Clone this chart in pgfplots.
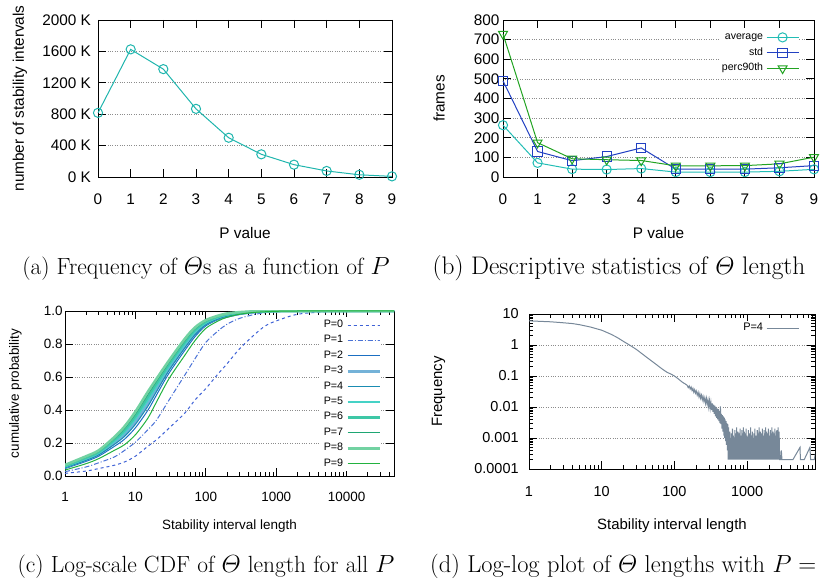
\documentclass[border=0pt]{standalone}
\usepackage{amsmath}
\usepackage{fontspec}
\newfontfamily\plotfont{Liberation Sans}
\usepackage{pgfplots}
\pgfplotsset{compat=1.18}
\definecolor{cA}{HTML}{1FB5AD}
\definecolor{cAvg}{HTML}{22BDB5}
\definecolor{cStd}{HTML}{2241C2}
\definecolor{cPerc}{HTML}{22A322}
\definecolor{cP0}{HTML}{3F62D6}
\definecolor{cP1}{HTML}{4A72D6}
\definecolor{cP2}{HTML}{1B6FC2}
\definecolor{cP3}{HTML}{74B2D8}
\definecolor{cP4}{HTML}{1A8CB2}
\definecolor{cP5}{HTML}{45D2C6}
\definecolor{cP6}{HTML}{3EC7A6}
\definecolor{cP7}{HTML}{1EA673}
\definecolor{cP8}{HTML}{72D2A2}
\definecolor{cP9}{HTML}{22B23F}
\definecolor{cD}{HTML}{778899}
\newcommand\fs[1]{\plotfont\fontsize{#1}{#1}\selectfont}
\pgfplotsset{
  base/.style={
    scale only axis,
    axis line style={black, line width=0.9bp},
    every tick/.style={black, line width=0.8bp},
    major tick length=8bp,
    minor tick length=4bp,
    tick align=inside,
    xtick pos=both, ytick pos=both,
    xticklabel pos=lower, yticklabel pos=left,
    ymajorgrids,
    grid style={dotted, black!45, line width=0.7bp},
    /pgf/number format/assume math mode=true,
    legend image code/.code={\draw[mark repeat=2,mark phase=2,##1] plot coordinates {(0bp,0bp) (16bp,0bp) (32bp,0bp)};},
    legend cell align=right,
    legend plot pos=right,
  },
}
\begin{document}
\begin{tikzpicture}
\useasboundingbox (0,0) rectangle (821bp,584bp);
% ---------------- (a)
\begin{axis}[base, at={(98bp,407bp)}, anchor=south west, width=294bp, height=157bp,
  xmin=0, xmax=9, ymin=0, ymax=2000, clip=false,
  xtick={0,...,9}, ytick={0,400,...,2000},
  yticklabels={0 K,400 K,800 K,1200 K,1600 K,2000 K},
  tick label style={font=\fs{15.4}},
  xticklabel style={anchor=base, yshift=-27.5bp},
  yticklabel style={xshift=-3.6bp},
  xlabel={P value}, ylabel={number of stability intervals},
  label style={font=\fs{15.4}},
  xlabel style={at={(axis description cs:0.5,-0.390)}, anchor=base},
  ylabel style={at={(axis description cs:-0.252,0.5)}, anchor=base}]
\addplot[cA, line width=1bp, mark=o, mark size=4.6bp] coordinates {
(0,817) (1,1626) (2,1374) (3,868) (4,500) (5,289) (6,157) (7,77) (8,28) (9,8)};
\end{axis}
% ---------------- (b)
\begin{axis}[base, at={(503bp,407bp)}, anchor=south west, width=311bp, height=157bp,
  xmin=0, xmax=9, ymin=0, ymax=800, clip=false,
  xtick={0,...,9}, ytick={0,100,...,800},
  tick label style={font=\fs{15.4}},
  xticklabel style={anchor=base, yshift=-27.5bp},
  xlabel={P value}, ylabel={frames},
  label style={font=\fs{15.4}},
  xlabel style={at={(axis description cs:0.5,-0.390)}, anchor=base},
  ylabel style={at={(axis description cs:-0.188,0.5)}, anchor=base},
  legend style={at={(axis description cs:0.9527,0.94)}, anchor=north east, draw=none, fill=white,
    font=\fs{10.6}, inner sep=0pt, row sep=0pt,
    nodes={inner xsep=3bp, inner ysep=0pt, text height=10bp, text depth=5.5bp}}]
\addplot[cAvg, line width=1bp, mark=o, mark size=4.6bp] coordinates {
(0,264) (1,72) (2,40) (3,38) (4,43) (5,25) (6,25) (7,25) (8,29) (9,39)};
\addlegendentry{average}
\addplot[cStd, line width=1bp, mark=square, mark size=4.6bp] coordinates {
(0,490) (1,130) (2,83) (3,104) (4,148) (5,40) (6,40) (7,40) (8,47) (9,58)};
\addlegendentry{std}
\addplot[cPerc, line width=1bp, mark=triangle, mark size=5.2bp, mark options={rotate=180}] coordinates {
(0,729) (1,175) (2,93) (3,88) (4,84) (5,57) (6,57) (7,58) (8,67) (9,101)};
\addlegendentry{perc90th}
\end{axis}
% ---------------- (c)
\begin{axis}[base, at={(65bp,108bp)}, anchor=south west, width=329bp, height=165bp,
  xmode=log, xmin=1, xmax=47000, ymin=0, ymax=1,
  xtick={1,10,100,1000,10000}, xticklabels={1,10,100,1000,10000},
  minor xtick={2,3,4,5,6,7,8,9,20,30,40,50,60,70,80,90,200,300,400,500,600,700,800,900,2000,3000,4000,5000,6000,7000,8000,9000,20000,30000,40000},
  ytick={0,0.2,0.4,0.6,0.8,1}, yticklabels={0.0,0.2,0.4,0.6,0.8,1.0},
  tick label style={font=\fs{13.5}},
  xticklabel style={anchor=base, yshift=-25.7bp},
  yticklabel style={xshift=1.2bp},
  xlabel={Stability interval length}, ylabel={cumulative probability},
  label style={font=\fs{13.5}},
  xlabel style={at={(axis description cs:0.5,-0.327)}, anchor=base},
  ylabel style={at={(axis description cs:-0.140,0.5)}, anchor=base},
  legend style={at={(axis description cs:0.9605,0.962)}, anchor=north east, draw=none, fill=white,
    font=\fs{10.8}, inner sep=0pt, row sep=0pt,
    nodes={inner xsep=3bp, inner ysep=0pt, text height=10bp, text depth=5.4bp}}]
\addplot[cP0, line width=1bp, dash pattern=on 3bp off 3bp, smooth] coordinates {
(1,0.016)(2,0.03)(3,0.045)(5,0.065)(7,0.085)(10,0.12)(15,0.18)(20,0.22)(30,0.29)(50,0.38)(70,0.46)(100,0.53)(150,0.62)(200,0.68)(300,0.77)(500,0.86)(700,0.91)(1000,0.94)(2000,0.98)(5000,0.995)(10000,1)(47000,1)};
\addlegendentry{P=0}
\addplot[cP1, line width=1bp, dash pattern=on 5bp off 2bp on 1bp off 2bp, smooth] coordinates {
(1,0.026)(2,0.055)(3,0.08)(5,0.115)(7,0.155)(10,0.205)(15,0.28)(20,0.34)(30,0.46)(50,0.61)(70,0.71)(100,0.81)(150,0.88)(200,0.92)(300,0.955)(500,0.98)(700,0.99)(1000,0.995)(2000,1)(47000,1)};
\addlegendentry{P=1}
\addplot[cP2, line width=1bp, smooth] coordinates {
(1,0.045)(2,0.089)(3,0.12)(5,0.179)(7,0.223)(10,0.292)(15,0.398)(20,0.492)(30,0.623)(50,0.76)(70,0.844)(100,0.91)(150,0.948)(200,0.962)(300,0.978)(500,0.99)(1000,0.997)(2000,1)(47000,1)};
\addlegendentry{P=2}
\addplot[cP3, line width=2.6bp, smooth] coordinates {
(1,0.053)(2,0.1)(3,0.133)(5,0.199)(7,0.25)(10,0.327)(15,0.438)(20,0.527)(30,0.65)(50,0.785)(70,0.864)(100,0.922)(150,0.956)(200,0.97)(300,0.984)(500,0.993)(1000,0.998)(2000,1)(47000,1)};
\addlegendentry{P=3}
\addplot[cP4, line width=1bp, smooth] coordinates {
(1,0.05)(2,0.095)(3,0.128)(5,0.191)(7,0.24)(10,0.313)(15,0.422)(20,0.513)(30,0.64)(50,0.775)(70,0.856)(100,0.917)(150,0.952)(200,0.968)(300,0.982)(500,0.992)(1000,0.998)(2000,1)(47000,1)};
\addlegendentry{P=4}
\addplot[cP5, line width=2.2bp, smooth] coordinates {
(1,0.058)(2,0.107)(3,0.14)(5,0.211)(7,0.267)(10,0.348)(15,0.462)(20,0.548)(30,0.667)(50,0.8)(70,0.876)(100,0.93)(150,0.962)(200,0.978)(300,0.989)(500,0.996)(1000,0.999)(2000,1)(47000,1)};
\addlegendentry{P=5}
\addplot[cP6, line width=2.2bp, smooth] coordinates {
(1,0.061)(2,0.111)(3,0.145)(5,0.219)(7,0.278)(10,0.362)(15,0.478)(20,0.562)(30,0.678)(50,0.81)(70,0.884)(100,0.935)(150,0.966)(200,0.98)(300,0.99)(500,0.997)(1000,1)(47000,1)};
\addlegendentry{P=6}
\addplot[cP7, line width=1bp, smooth] coordinates {
(1,0.064)(2,0.116)(3,0.15)(5,0.227)(7,0.289)(10,0.376)(15,0.494)(20,0.576)(30,0.689)(50,0.82)(70,0.892)(100,0.94)(150,0.969)(200,0.983)(300,0.992)(500,0.997)(1000,1)(47000,1)};
\addlegendentry{P=7}
\addplot[cP8, line width=2.6bp, smooth] coordinates {
(1,0.067)(2,0.12)(3,0.155)(5,0.235)(7,0.3)(10,0.39)(15,0.51)(20,0.59)(30,0.7)(50,0.83)(70,0.9)(100,0.945)(150,0.972)(200,0.985)(300,0.993)(500,0.998)(1000,1)(47000,1)};
\addlegendentry{P=8}
\addplot[cP9, line width=1bp, smooth] coordinates {
(1,0.036)(2,0.075)(3,0.105)(5,0.155)(7,0.19)(10,0.25)(15,0.35)(20,0.45)(30,0.59)(50,0.73)(70,0.82)(100,0.895)(150,0.94)(200,0.962)(300,0.98)(500,0.992)(1000,0.998)(2000,1)(47000,1)};
\addlegendentry{P=9}
\end{axis}
% ---------------- (d)
\begin{axis}[base, at={(529bp,115bp)}, anchor=south west, width=286bp, height=155bp,
  xmode=log, ymode=log, xmin=1, xmax=8600, ymin=0.0001, ymax=10,
  xtick={1,10,100,1000}, xticklabels={1,10,100,1000},
  minor xtick={2,3,4,5,6,7,8,9,20,30,40,50,60,70,80,90,200,300,400,500,600,700,800,900,2000,3000,4000,5000,6000,7000,8000},
  ytick={0.0001,0.001,0.01,0.1,1,10}, yticklabels={0.0001,0.001,0.01,0.1,1,10},
  minor ytick={0.0002,0.0003,0.0004,0.0005,0.0006,0.0007,0.0008,0.0009,0.002,0.003,0.004,0.005,0.006,0.007,0.008,0.009,0.02,0.03,0.04,0.05,0.06,0.07,0.08,0.09,0.2,0.3,0.4,0.5,0.6,0.7,0.8,0.9,2,3,4,5,6,7,8,9},
  tick label style={font=\fs{14.5}},
  xticklabel style={anchor=base, yshift=-27.7bp},
  yticklabel style={xshift=-6.9bp},
  xlabel={Stability interval length}, ylabel={Frequency},
  label style={font=\fs{15}},
  xlabel style={at={(axis description cs:0.5,-0.389)}, anchor=base},
  ylabel style={at={(axis description cs:-0.304,0.5)}, anchor=base},
  legend style={at={(axis description cs:0.945,0.957)}, anchor=north east, draw=none, fill=white,
    font=\fs{11}, inner sep=0pt, row sep=0pt,
    nodes={inner xsep=3bp, inner ysep=0pt, text height=10bp, text depth=5.4bp}}]
\addplot[cD, line width=1bp] coordinates {
(1,6.0)(2,5.6)(3,5.2)(4,4.9)(5,4.5)(7,3.8)(10,3.0)(13,2.3)(16,1.8)(20,1.3)(25,0.95)(30,0.72)(40,0.43)(50,0.29)(60,0.21)(70,0.16)(80,0.13)(90,0.115)(100,0.1)(110,0.085)(120,0.072)(130,0.062)(140,0.056)(150,0.05)
(155,0.042)(160,0.048)(165,0.038)(170,0.044)(175,0.034)(180,0.04)(185,0.03)(190,0.036)(195,0.028)(200,0.033)(206,0.024)(212,0.03)(218,0.021)(224,0.027)(230,0.019)(236,0.024)(242,0.017)(248,0.022)(255,0.015)(262,0.02)(269,0.013)(276,0.019)(283,0.012)(290,0.017)(297,0.01)(304,0.016)(311,0.009)(318,0.014)(325,0.008)(332,0.013)(339,0.007)(346,0.012)(353,0.006)(360,0.011)(367,0.005)(374,0.01)(381,0.0045)(388,0.009)(395,0.004)(402,0.0085)(409,0.0035)(416,0.0075)(423,0.003)(430,0.0105)(437,0.0028)(444,0.006)(451,0.002)(458,0.0055)(465,0.0016)(472,0.005)(479,0.0012)(486,0.0045)(493,0.001)(500,0.004)(507,0.0008)(514,0.0035)(521,0.0006)(528,0.003)(535,0.0004)(542,0.0028)(549,0.0002)(556,0.0022)
(560,.0012)(565,.0002)(570,.0008)(575,.0002)(580,.0016)(585,.0004)(590,.001)(595,.0002)(600,.0006)(605,.0002)(610,.0014)(615,.0004)(620,.0008)(625,.0002)(630,.002)(635,.0002)(640,.001)(645,.0004)(650,.0012)(655,.0002)(660,.0006)(665,.0002)(670,.0008)(675,.0004)(680,.0018)(685,.0002)(690,.001)(695,.0002)(700,.0014)(705,.0004)(710,.0008)(715,.0002)(720,.0022)(725,.0002)(730,.0012)(735,.0004)(740,.0008)(745,.0002)(750,.0016)(755,.0002)(760,.001)(765,.0004)(770,.0006)(775,.0002)(780,.0014)(785,.0002)(790,.0008)(795,.0004)(800,.002)(805,.0002)(810,.001)(815,.0002)(820,.0012)(825,.0004)(830,.0006)(835,.0002)(840,.0008)(845,.0002)(850,.0018)(855,.0004)(860,.001)(865,.0002)(870,.0014)(875,.0002)(880,.0008)(885,.0004)(890,.0022)(895,.0002)(900,.0012)(905,.0002)(910,.0008)(915,.0004)(920,.0016)(925,.0002)(930,.001)(935,.0002)(940,.0006)(945,.0004)(950,.0014)(955,.0002)(960,.0008)(965,.0002)(970,.002)(975,.0004)(980,.001)(985,.0002)(990,.0012)(995,.0002)
(1000,.0006)(1010,.0004)(1020,.0008)(1030,.0002)(1040,.0018)(1050,.0002)(1060,.001)(1070,.0004)(1080,.0014)(1090,.0002)(1100,.0008)(1110,.0002)(1120,.0022)(1130,.0004)(1140,.0012)(1150,.0002)(1160,.0008)(1170,.0002)(1180,.0016)(1190,.0004)(1200,.001)(1210,.0002)(1220,.0006)(1230,.0002)(1240,.0014)(1250,.0004)(1260,.0008)(1270,.0002)(1280,.002)(1290,.0002)(1300,.001)(1310,.0004)(1320,.0012)(1330,.0002)(1340,.0006)(1350,.0002)(1360,.0008)(1370,.0004)(1380,.0018)(1390,.0002)(1400,.001)(1410,.0002)(1420,.0014)(1430,.0004)(1440,.0008)(1450,.0002)(1460,.0022)(1470,.0002)(1480,.0012)(1490,.0004)(1500,.0008)(1510,.0002)(1520,.0016)(1530,.0002)(1540,.001)(1550,.0004)(1560,.0006)(1570,.0002)(1580,.0014)(1590,.0002)(1600,.0008)(1610,.0004)(1620,.002)(1630,.0002)(1640,.001)(1650,.0002)(1660,.0012)(1670,.0004)(1680,.0006)(1690,.0002)(1700,.0008)(1710,.0002)(1720,.0018)(1730,.0004)(1740,.001)(1750,.0002)(1760,.0014)(1770,.0002)(1780,.0008)(1790,.0004)(1800,.0022)(1810,.0002)(1820,.0012)(1830,.0002)(1840,.0008)(1850,.0004)(1860,.0016)(1870,.0002)(1880,.001)(1890,.0002)(1900,.0006)(1910,.0004)(1920,.0014)(1930,.0002)(1940,.0008)(1950,.0002)(1960,.002)(1970,.0004)(1980,.001)(1990,.0002)
(2000,.0012)(2014,.0002)(2028,.0006)(2042,.0004)(2056,.0008)(2070,.0002)(2084,.0018)(2098,.0002)(2112,.001)(2126,.0004)(2140,.0014)(2154,.0002)(2168,.0008)(2182,.0002)(2196,.0022)(2210,.0004)(2224,.0012)(2238,.0002)(2252,.0008)(2266,.0002)(2280,.0016)(2294,.0004)(2308,.001)(2322,.0002)(2336,.0006)(2350,.0002)(2364,.0014)(2378,.0004)(2392,.0008)(2406,.0002)(2420,.002)(2434,.0002)(2448,.001)(2462,.0004)(2476,.0012)(2490,.0002)(2504,.0006)(2518,.0002)(2532,.0008)(2546,.0004)(2560,.0018)(2574,.0002)(2588,.001)(2602,.0002)(2616,.0014)(2630,.0004)(2644,.0008)(2658,.0002)(2672,.0022)(2686,.0002)(2700,.0012)(2714,.0004)(2728,.0008)(2742,.0002)(2756,.0016)(2770,.0002)(2784,.001)(2798,.0002)
(2900,0.0002)(2960,0.0004)(3020,0.0002)(4270,0.0002)(5350,0.0005)(5420,0.0002)(6100,0.0002)(7330,0.0005)(7480,0.0002)(8400,0.0002)(9000,0.0005)};
\addlegendentry{P=4}
\end{axis}
% ---------------- captions
\node[anchor=base, inner sep=0pt, font=\fontsize{23.5}{28}\selectfont] at (206bp,309bp) {(a) Frequency of $\varTheta$s as a function of $P$};
\node[anchor=base, inner sep=0pt, font=\fontsize{25.5}{28}\selectfont] at (619bp,309bp) {(b) Descriptive statistics of $\varTheta$ length};
\node[anchor=base, inner sep=0pt, font=\fontsize{23.5}{28}\selectfont] at (206bp,12bp) {(c) Log-scale CDF of $\varTheta$ length for all $P$};
\node[anchor=base west, inner sep=0pt, font=\fontsize{24.5}{28}\selectfont] at (430bp,12bp) {(d) Log-log plot of $\varTheta$ lengths with $P=4$};
\end{tikzpicture}
\end{document}
